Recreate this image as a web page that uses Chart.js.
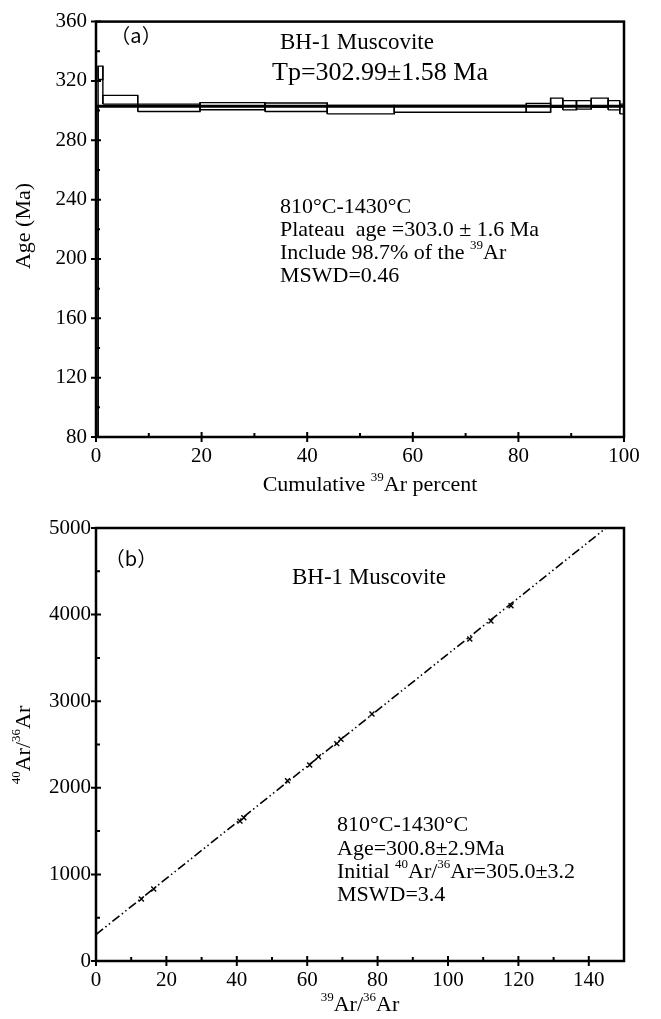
<!DOCTYPE html>
<html>
<head>
<meta charset="utf-8">
<script src="https://cdn.jsdelivr.net/npm/chart.js@4.4.1/dist/chart.umd.min.js"></script>
<style>
  html, body { margin: 0; padding: 0; background: #fff; }
  #wrapA { position: absolute; left: 0; top: 0; width: 661px; height: 500px; }
  #wrapB { position: absolute; left: 0; top: 500px; width: 661px; height: 519px; }
</style>
</head>
<body>
<div id="wrapA"><canvas id="chartA" width="661" height="500"></canvas></div>
<div id="wrapB"><canvas id="chartB" width="661" height="519"></canvas></div>
<script>
// ===== panel (a): age spectrum =====
const stepEdges = [0, 0.4, 1.3, 7.9, 19.7, 32.0, 43.8, 56.5, 81.5, 86.1, 88.4, 91.0, 93.8, 97.0, 99.2, 100];
const ageHigh   = [303, 330, 310.3, 304.4, 305.4, 305.1, 303.4, 303.4, 304.9, 308.4, 306.7, 306.7, 308.4, 306.7, 304.4];
const ageLow    = [80, 321, 304.4, 299.4, 300.6, 299.4, 297.8, 298.9, 298.9, 302.2, 300.5, 301.0, 302.2, 300.5, 297.8];
const plateauAge = 303.0;
const pctTicks = [0, 20, 40, 60, 80, 100];
const pctMinor = [10, 30, 50, 70, 90];
const ageTicks = [80, 120, 160, 200, 240, 280, 320, 360];
const ageMinor = [100, 140, 180, 220, 260, 300, 340];

// ===== panel (b): isochron =====
const ratio39 = [12.9, 16.4, 40.9, 42.0, 54.4, 60.7, 63.2, 68.4, 69.6, 78.4, 106.2, 112.2, 117.9];
const ratio40 = [716, 831, 1615, 1655, 2082, 2263, 2359, 2510, 2560, 2852, 3718, 3926, 4103];
const isoX = [0, 150];
const isoY = [305, 5165];
const r39Ticks = [0, 20, 40, 60, 80, 100, 120, 140];
const r39Minor = [10, 30, 50, 70, 90, 110, 130];
const r40Ticks = [0, 1000, 2000, 3000, 4000, 5000];
const r40Minor = [500, 1500, 2500, 3500, 4500];

const SERIF = "'Liberation Serif', 'Times New Roman', serif";
const tickFont = { family: SERIF, size: 21 };
const plainLabel = v => String(v);

// draws text with optional superscript pieces: [text, isSup]
function drawRich(ctx, segs, x, y, size, align) {
  const supSize = Math.round(size * 0.58);
  let total = 0;
  segs.forEach(s => {
    ctx.font = (s[1] ? supSize : size) + 'px ' + SERIF;
    total += ctx.measureText(s[0]).width;
  });
  let cx = align === 'center' ? x - total / 2 : x;
  ctx.textAlign = 'left';
  ctx.textBaseline = 'middle';
  segs.forEach(s => {
    ctx.font = (s[1] ? supSize : size) + 'px ' + SERIF;
    ctx.fillText(s[0], cx, s[1] ? y - size * 0.33 : y);
    cx += ctx.measureText(s[0]).width;
  });
}

function framePlugin(deco) {
  return {
    id: 'frame',
    afterDraw(chart) {
      const ctx = chart.ctx;
      const a = chart.chartArea;
      const xs = chart.scales.x, ys = chart.scales.y;
      ctx.save();
      ctx.strokeStyle = '#000';
      ctx.fillStyle = '#000';
      ctx.lineWidth = 2.5;
      ctx.strokeRect(a.left, a.top, a.right - a.left, a.bottom - a.top);
      ctx.lineWidth = 2;
      ctx.beginPath();
      deco.xMajor.forEach(v => { const p = xs.getPixelForValue(v); ctx.moveTo(p, a.bottom + 5); ctx.lineTo(p, a.bottom - 5); });
      deco.xMinor.forEach(v => { const p = xs.getPixelForValue(v); ctx.moveTo(p, a.bottom); ctx.lineTo(p, a.bottom - 4); });
      deco.yMajor.forEach(v => { const p = ys.getPixelForValue(v); ctx.moveTo(a.left - 5, p); ctx.lineTo(a.left + 5, p); });
      deco.yMinor.forEach(v => { const p = ys.getPixelForValue(v); ctx.moveTo(a.left, p); ctx.lineTo(a.left + 4, p); });
      ctx.stroke();

      // panel letter
      ctx.font = "20px 'Noto Sans CJK SC', 'Noto Sans', sans-serif";
      ctx.textAlign = 'center';
      ctx.textBaseline = 'middle';
      ctx.fillText(deco.letter[0], deco.letter[1], deco.letter[2]);

      deco.texts.forEach(t => drawRich(ctx, t.segs, t.x, t.y, t.size, t.align || 'left'));

      // rotated y title
      ctx.translate(deco.yTitle.x, deco.yTitle.y);
      ctx.rotate(-Math.PI / 2);
      drawRich(ctx, deco.yTitle.segs, 0, 0, deco.yTitle.size, 'center');
      ctx.restore();
    }
  };
}

// ---- build panel (a) datasets ----
const specSets = [];
for (let i = 0; i < ageHigh.length; i++) {
  const x0 = stepEdges[i], x1 = stepEdges[i + 1];
  specSets.push({
    data: [{x: x0, y: ageLow[i]}, {x: x1, y: ageLow[i]}, {x: x1, y: ageHigh[i]}, {x: x0, y: ageHigh[i]}, {x: x0, y: ageLow[i]}],
    showLine: true, borderColor: '#000', borderWidth: 1.4, pointRadius: 0, tension: 0
  });
  if (i > 0) {
    const xb = stepEdges[i];
    specSets.push({
      data: [{x: xb, y: Math.min(ageLow[i - 1], ageLow[i])}, {x: xb, y: Math.max(ageHigh[i - 1], ageHigh[i])}],
      showLine: true, borderColor: '#000', borderWidth: 1.4, pointRadius: 0
    });
  }
}
specSets.push({
  data: [{x: 0, y: plateauAge}, {x: 100, y: plateauAge}],
  showLine: true, borderColor: '#000', borderWidth: 3, pointRadius: 0
});

new Chart(document.getElementById('chartA'), {
  type: 'scatter',
  data: { datasets: specSets },
  options: {
    responsive: false, animation: false,
    layout: { padding: { top: 13, right: 37, left: 0, bottom: 0 } },
    plugins: { legend: { display: false }, tooltip: { enabled: false } },
    scales: {
      x: {
        type: 'linear', min: 0, max: 100,
        afterBuildTicks: s => { s.ticks = pctTicks.map(v => ({ value: v })); },
        afterFit: s => { s.height = 63; },
        ticks: { font: tickFont, color: '#000', padding: 7, maxRotation: 0, callback: plainLabel },
        grid: { display: false, drawTicks: false }, border: { display: false }
      },
      y: {
        type: 'linear', min: 80, max: 360,
        afterBuildTicks: s => { s.ticks = ageTicks.map(v => ({ value: v })); },
        afterFit: s => { s.width = 96; },
        ticks: { font: tickFont, color: '#000', padding: 9, callback: plainLabel },
        grid: { display: false, drawTicks: false }, border: { display: false }
      }
    }
  },
  plugins: [framePlugin({
    xMajor: pctTicks, xMinor: pctMinor, yMajor: ageTicks, yMinor: ageMinor,
    letter: ['（a）', 136, 35],
    texts: [
      { segs: [['BH-1 Muscovite']], x: 280, y: 43, size: 23 },
      { segs: [['Tp=302.99\u00B11.58 Ma']], x: 272, y: 73, size: 26 },
      { segs: [['810\u00B0C-1430\u00B0C']], x: 280, y: 207, size: 22 },
      { segs: [['Plateau  age =303.0 \u00B1 1.6 Ma']], x: 280, y: 230, size: 22 },
      { segs: [['Include 98.7% of the '], ['39', true], ['Ar']], x: 280, y: 253, size: 22 },
      { segs: [['MSWD=0.46']], x: 280, y: 276, size: 22 },
      { segs: [['Cumulative '], ['39', true], ['Ar percent']], x: 370, y: 485, size: 22, align: 'center' }
    ],
    yTitle: { segs: [['Age (Ma)']], x: 24, y: 226, size: 22 }
  })]
});

// ---- panel (b) ----
new Chart(document.getElementById('chartB'), {
  type: 'scatter',
  data: {
    datasets: [
      {
        data: isoX.map((v, i) => ({ x: v, y: isoY[i] })),
        showLine: true, borderColor: '#000', borderWidth: 1.6, pointRadius: 0,
        borderDash: [9, 3, 1.5, 3, 1.5, 3]
      },
      {
        data: ratio39.map((v, i) => ({ x: v, y: ratio40[i] })),
        pointStyle: 'crossRot', pointRadius: 3.5, borderColor: '#000', borderWidth: 1.4, showLine: false
      }
    ]
  },
  options: {
    responsive: false, animation: false,
    layout: { padding: { top: 28, right: 37, left: 0, bottom: 0 } },
    plugins: { legend: { display: false }, tooltip: { enabled: false } },
    scales: {
      x: {
        type: 'linear', min: 0, max: 150,
        afterBuildTicks: s => { s.ticks = r39Ticks.map(v => ({ value: v })); },
        afterFit: s => { s.height = 58; },
        ticks: { font: tickFont, color: '#000', padding: 7, maxRotation: 0, callback: plainLabel },
        grid: { display: false, drawTicks: false }, border: { display: false }
      },
      y: {
        type: 'linear', min: 0, max: 5000,
        afterBuildTicks: s => { s.ticks = r40Ticks.map(v => ({ value: v })); },
        afterFit: s => { s.width = 96; },
        ticks: { font: tickFont, color: '#000', padding: 5, callback: plainLabel },
        grid: { display: false, drawTicks: false }, border: { display: false }
      }
    }
  },
  plugins: [framePlugin({
    xMajor: r39Ticks, xMinor: r39Minor, yMajor: r40Ticks, yMinor: r40Minor,
    letter: ['（b）', 131, 58],
    texts: [
      { segs: [['BH-1 Muscovite']], x: 292, y: 78, size: 23 },
      { segs: [['810\u00B0C-1430\u00B0C']], x: 337, y: 325, size: 22 },
      { segs: [['Age=300.8\u00B12.9Ma']], x: 337, y: 349, size: 22 },
      { segs: [['Initial '], ['40', true], ['Ar/'], ['36', true], ['Ar=305.0\u00B13.2']], x: 337, y: 372, size: 22 },
      { segs: [['MSWD=3.4']], x: 337, y: 395, size: 22 },
      { segs: [['39', true], ['Ar/'], ['36', true], ['Ar']], x: 360, y: 505, size: 22, align: 'center' }
    ],
    yTitle: { segs: [['40', true], ['Ar/'], ['36', true], ['Ar']], x: 24, y: 245, size: 22 }
  })]
});
</script>
</body>
</html>
